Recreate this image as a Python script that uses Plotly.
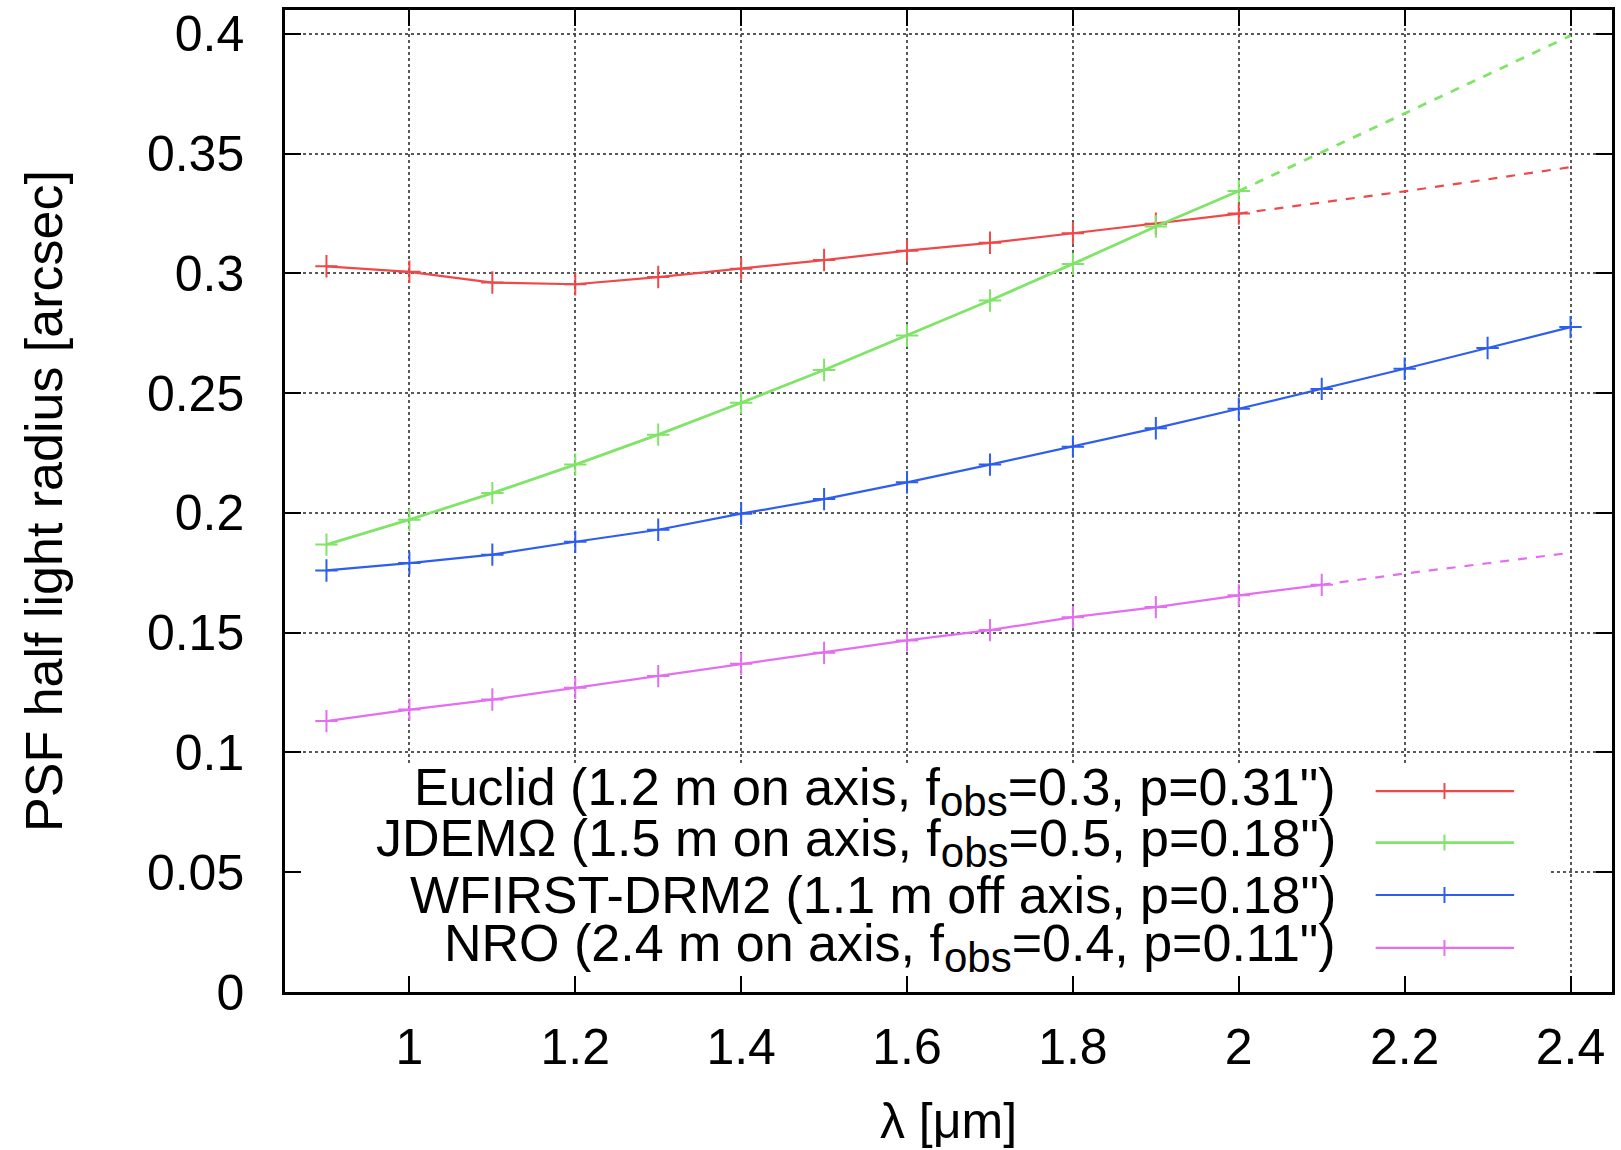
import plotly.graph_objects as go

# ---------------- data ----------------
wavelength_um = [0.9, 1.0, 1.1, 1.2, 1.3, 1.4, 1.5, 1.6, 1.7, 1.8, 1.9, 2.0, 2.1, 2.2, 2.3, 2.4]

euclid = [0.3030, 0.3007, 0.2962, 0.2955, 0.2985, 0.3020, 0.3056, 0.3095,
          0.3128, 0.3168, 0.3208, 0.3250, 0.3295, 0.3343, 0.3393, 0.3444]
jdem = [0.1868, 0.1972, 0.2083, 0.2202, 0.2327, 0.2460, 0.2597, 0.2741,
        0.2887, 0.3040, 0.3196, 0.3344, 0.3505, 0.3667, 0.3830, 0.3993]
wfirst = [0.1760, 0.1791, 0.1826, 0.1880, 0.1930, 0.1997, 0.2058, 0.2128,
          0.2202, 0.2277, 0.2354, 0.2435, 0.2518, 0.2602, 0.2689, 0.2776]
nro = [0.1131, 0.1179, 0.1221, 0.1270, 0.1319, 0.1370, 0.1416, 0.1468,
       0.1511, 0.1565, 0.1607, 0.1656, 0.1700, 0.1747, 0.1790, 0.1834]

# last wavelength drawn solid with markers (beyond it: dashed extrapolation)
euclid_solid_until = 2.0
jdem_solid_until = 2.0
wfirst_solid_until = 2.4
nro_solid_until = 2.1

SUB = '<sub><span style="font-size:42px">obs</span></sub>'
series_names = [
    'Euclid (1.2 m on axis, f' + SUB + '=0.3, p=0.31")',
    'JDEMΩ (1.5 m on axis, f' + SUB + '=0.5, p=0.18")',
    'WFIRST-DRM2 (1.1 m off axis, p=0.18")',
    'NRO (2.4 m on axis, f' + SUB + '=0.4, p=0.11")',
]
series_values = [euclid, jdem, wfirst, nro]
series_solid_until = [euclid_solid_until, jdem_solid_until, wfirst_solid_until, nro_solid_until]
series_colors = ["#f04848", "#80e468", "#2e5ef0", "#e46ef0"]
series_widths = [2.2, 2.8, 2.2, 2.2]

x_ticks = [1.0, 1.2, 1.4, 1.6, 1.8, 2.0, 2.2, 2.4]
x_ticktext = ["1", "1.2", "1.4", "1.6", "1.8", "2", "2.2", "2.4"]
y_ticks = [0, 0.05, 0.1, 0.15, 0.2, 0.25, 0.3, 0.35, 0.4]
y_ticktext = ["0", "0.05", "0.1", "0.15", "0.2", "0.25", "0.3", "0.35", "0.4"]

FONT = "Liberation Sans, Arial, Helvetica, sans-serif"

fig = go.Figure()

for name, vals, until, col, w in zip(series_names, series_values, series_solid_until,
                                     series_colors, series_widths):
    n_solid = sum(1 for x in wavelength_um if x <= until + 1e-9)
    fig.add_trace(go.Scatter(
        x=wavelength_um[:n_solid], y=vals[:n_solid], mode="lines+markers",
        line=dict(color=col, width=w),
        marker=dict(symbol="cross-thin", size=16, line=dict(color=col, width=2)),
        name=name, showlegend=False, hoverinfo="x+y",
    ))
    if n_solid < len(wavelength_um):
        fig.add_trace(go.Scatter(
            x=wavelength_um[n_solid - 1:], y=vals[n_solid - 1:], mode="lines",
            line=dict(color=col, width=w, dash="dash"),
            showlegend=False, hoverinfo="x+y",
        ))

# ---------------- key (gnuplot style: text right, sample left) ----------------
key_x_min, key_x_max, key_y_top = 0.85, 2.373, 0.095
key_rows_y = [0.0839, 0.0624, 0.0405, 0.0184]
key_text_x = 2.12
key_sample_x = (2.165, 2.332)
key_marker_x = 2.248

shapes = [dict(type="rect", xref="x", yref="y", x0=key_x_min, x1=key_x_max,
               y0=0, y1=key_y_top, fillcolor="white", line=dict(width=0),
               layer="between")]
annotations = []
for name, yk, col, w in zip(series_names, key_rows_y, series_colors, series_widths):
    shapes.append(dict(type="line", xref="x", yref="y", x0=key_sample_x[0], x1=key_sample_x[1],
                       y0=yk, y1=yk, line=dict(color=col, width=w), layer="above"))
    shapes.append(dict(type="line", xref="x", yref="y", ysizemode="pixel", yanchor=yk,
                       x0=key_marker_x, x1=key_marker_x, y0=-8, y1=8,
                       line=dict(color=col, width=2), layer="above"))
    annotations.append(dict(x=key_text_x, y=yk, xref="x", yref="y", text=name,
                            showarrow=False, xanchor="right", yanchor="middle",
                            font=dict(family=FONT, size=52, color="black")))

axis_common = dict(
    showline=True, linecolor="black", linewidth=2.5, mirror="allticks",
    ticks="inside", ticklen=16, tickwidth=2, tickcolor="black",
    showgrid=True, gridcolor="rgba(60,60,60,0.85)", gridwidth=1.5, griddash="dot",
    zeroline=False, tickfont=dict(family=FONT, size=50, color="black"),
)

fig.update_layout(
    width=1621, height=1150,
    margin=dict(l=285, r=6, t=10, b=158),
    paper_bgcolor="white", plot_bgcolor="white",
    font=dict(family=FONT, size=50, color="black"),
    xaxis=dict(range=[0.85, 2.45], tickmode="array", tickvals=x_ticks, ticktext=x_ticktext,
               ticklabelstandoff=9,
               title=dict(text="λ [μm]", font=dict(family=FONT, size=50), standoff=30),
               **axis_common),
    yaxis=dict(range=[0, 0.41], tickmode="array", tickvals=y_ticks, ticktext=y_ticktext,
               ticklabelstandoff=28,
               title=dict(text="PSF half light radius [arcsec]", font=dict(family=FONT, size=52),
                          standoff=68),
               **axis_common),
    shapes=shapes,
    annotations=annotations,
    showlegend=False,
)

fig.write_html("out.html")
